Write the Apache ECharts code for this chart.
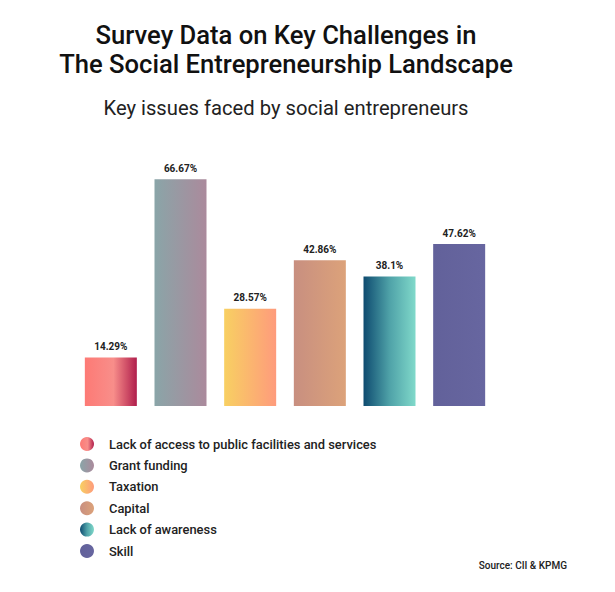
<!DOCTYPE html>
<html>
<head>
<meta charset="utf-8">
<script src="https://cdn.jsdelivr.net/npm/echarts@6/dist/echarts.min.js"></script>
<style>
  html, body { margin: 0; padding: 0; background: #fff; }
  #chart { width: 615px; height: 592px; }
</style>
</head>
<body>
<div id="chart"></div>
<script>
// key issues from the survey
const categories = [
  'Lack of access to public facilities and services',
  'Grant funding',
  'Taxation',
  'Capital',
  'Lack of awareness',
  'Skill'
]
const values = [14.29, 66.67, 28.57, 42.86, 38.1, 47.62]

const titleText = 'Survey Data on Key Challenges in\nThe Social Entrepreneurship Landscape'
const subtitleText = 'Key issues faced by social entrepreneurs'
const sourceText = 'Source: CII & KPMG'

// left -> right gradient stops for each bar
const barGradients = [
  [[0, '#fd7a75'], [0.55, '#f88e8a'], [1, '#b01e4c']],
  [[0, '#8aa5a8'], [1, '#ab8a9c']],
  [[0, '#f8d062'], [1, '#fe9b7c']],
  [[0, '#c88f80'], [1, '#dca27a']],
  [[0, '#0e4b70'], [0.5, '#4fa2a8'], [1, '#80d9ca']],
  [[0, '#62619a'], [1, '#6766a0']]
]

function gradient(stops) {
  return new echarts.graphic.LinearGradient(0, 0, 1, 0,
    stops.map(s => ({ offset: s[0], color: s[1] })))
}

let myChart = echarts.init(document.getElementById('chart'), null, { renderer: 'svg' })

let series = categories.map((name, i) => ({
  name: name,
  type: 'bar',
  barWidth: 52,
  barGap: '-100%',
  data: values.map((v, j) => (j === i ? v : '-')),
  itemStyle: { color: gradient(barGradients[i]) },
  label: {
    show: true,
    position: 'top',
    distance: 6,
    formatter: '{c}%',
    fontFamily: 'Roboto',
    fontSize: 10,
    fontWeight: 'bold',
    color: '#222'
  },
  animation: false
}))

let option = {
  backgroundColor: '#fff',
  textStyle: { fontFamily: 'Roboto' },
  graphic: [
    {
      type: 'text',
      x: 286,
      y: 49.5,
      style: {
        text: titleText,
        textAlign: 'center',
        textVerticalAlign: 'middle',
        fontFamily: 'Roboto',
        fontSize: 25.6,
        fontWeight: 500,
        lineHeight: 29,
        fill: '#111'
      }
    },
    {
      type: 'text',
      x: 286,
      y: 108,
      style: {
        text: subtitleText,
        textAlign: 'center',
        textVerticalAlign: 'middle',
        fontFamily: 'Roboto',
        fontSize: 20.2,
        fontWeight: 'normal',
        fill: '#222'
      }
    }
  ],
  title: {
    text: sourceText,
    right: 48,
    top: 559,
    padding: 0,
    textStyle: {
      fontFamily: 'Roboto',
      fontSize: 10,
      fontWeight: 500,
      lineHeight: 12,
      color: '#222'
    }
  },
  legend: {
    orient: 'vertical',
    left: 80,
    top: 437,
    padding: 0,
    icon: 'circle',
    itemWidth: 14,
    itemHeight: 14,
    itemGap: 7.4,
    selectedMode: false,
    data: categories,
    textStyle: {
      fontFamily: 'Roboto',
      fontSize: 12.9,
      fontWeight: 500,
      lineHeight: 14,
      color: '#222',
      padding: [0, 0, 0, 10]
    }
  },
  grid: {
    left: 76,
    right: 615 - 494,
    top: 134,
    bottom: 592 - 406
  },
  xAxis: {
    type: 'category',
    data: categories,
    show: false
  },
  yAxis: {
    type: 'value',
    min: 0,
    max: 80,
    show: false
  },
  series: series
}
myChart.setOption(option)
</script>
</body>
</html>
